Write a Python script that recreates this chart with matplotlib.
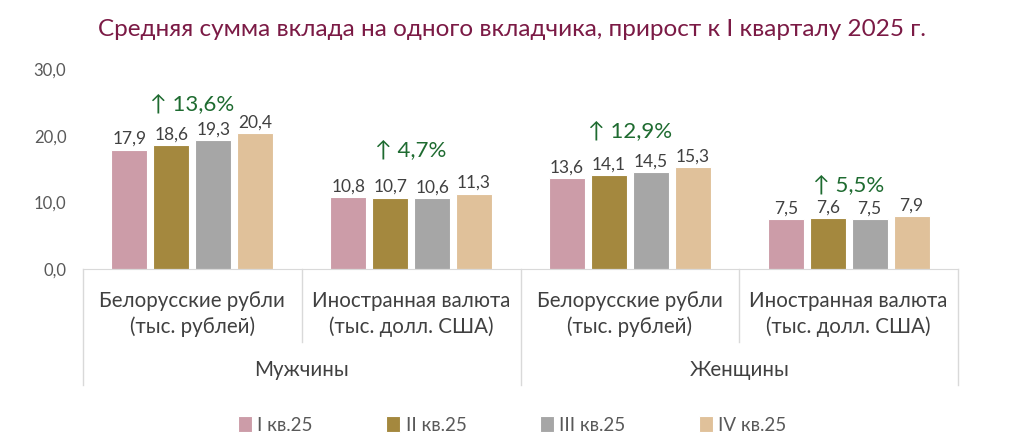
import matplotlib
matplotlib.use("Agg")
import matplotlib.pyplot as plt
import matplotlib.transforms as mtransforms
import numpy as np

plt.rcParams['font.family'] = ['Lato', 'Open Sans', 'DejaVu Sans']

title = "Средняя сумма вклада на одного вкладчика, прирост к I кварталу 2025 г."
categories = ["Белорусские рубли\n(тыс. рублей)", "Иностранная валюта\n(тыс. долл. США)",
              "Белорусские рубли\n(тыс. рублей)", "Иностранная валюта\n(тыс. долл. США)"]
groups = ["Мужчины", "Женщины"]
series_names = ["I кв.25", "II кв.25", "III кв.25", "IV кв.25"]
q1 = [17.9, 10.8, 13.6, 7.5]
q2 = [18.6, 10.7, 14.1, 7.6]
q3 = [19.3, 10.6, 14.5, 7.5]
q4 = [20.4, 11.3, 15.3, 7.9]
growth = ["↑ 13,6%", "↑ 4,7%", "↑ 12,9%", "↑ 5,5%"]
growth_y = [24.75, 17.85, 20.7, 12.6]
yticks = [0, 10, 20, 30]

colors = ["#CC9CA8", "#A4883E", "#A6A6A6", "#E0C19A"]
text_gray = "#404040"
tick_gray = "#595959"
line_gray = "#D9D9D9"

fig = plt.figure(figsize=(10.24, 4.47), dpi=100)
ax = fig.add_axes([83/1024, 1 - 269/447, (958-83)/1024, 200/447])

x = np.arange(len(categories))
width = 36/219
step = 42/219
series = [q1, q2, q3, q4]
for i, (vals, c, name) in enumerate(zip(series, colors, series_names)):
    pos = x + (i - 1.5) * step
    bars = ax.bar(pos, vals, width=width, color=c, edgecolor="white", linewidth=0.8, label=name)
    for b, v in zip(bars, vals):
        ax.annotate(f"{v:.1f}".replace(".", ","), (b.get_x() + b.get_width()/2, v),
                    xytext=(0, 2), textcoords="offset points", ha="center", va="bottom",
                    fontsize=12.5, color=text_gray)

for xi, g, gy in zip(x, growth, growth_y):
    ax.text(xi, gy, g, ha="center", va="center", fontsize=16, color="#1E6B30")

ax.set_xlim(-0.5, 3.5)
ax.set_ylim(0, 30)
ax.set_yticks(yticks)
ax.set_yticklabels([f"{t:.1f}".replace(".", ",") for t in yticks], fontsize=12, color=tick_gray)
ax.tick_params(axis="y", length=0, pad=12)
ax.set_xticks([])
for s in ["left", "right", "top"]:
    ax.spines[s].set_visible(False)
ax.spines["bottom"].set_color(line_gray)

trans = mtransforms.blended_transform_factory(ax.transData, ax.transAxes)
for xs, ybot in [(-0.5, -0.58), (0.5, -0.365), (1.5, -0.58), (2.5, -0.365), (3.5, -0.58)]:
    ax.plot([xs, xs], [0, ybot], transform=trans, color=line_gray, lw=1, clip_on=False)

for xi, cat in zip(x, categories):
    ax.text(xi, -0.225, cat, transform=trans, ha="center", va="center", fontsize=14.8,
            color=text_gray, linespacing=1.38)
for gi, g in enumerate(groups):
    ax.text(gi*2 + 0.5, -0.505, g, transform=trans, ha="center", va="center", fontsize=14.8,
            color=text_gray)

fig.text(0.5, 1 - 30/447, title, ha="center", va="center", fontsize=17.5, color="#7B1A45")

fig.legend(loc="center", bbox_to_anchor=(0.5, 1 - 425/447), ncol=4, frameon=False,
           fontsize=13.5, handlelength=0.75, handleheight=0.9, handletextpad=0.3,
           columnspacing=3.9, labelcolor=tick_gray)

fig.savefig("out.png", dpi=100)
